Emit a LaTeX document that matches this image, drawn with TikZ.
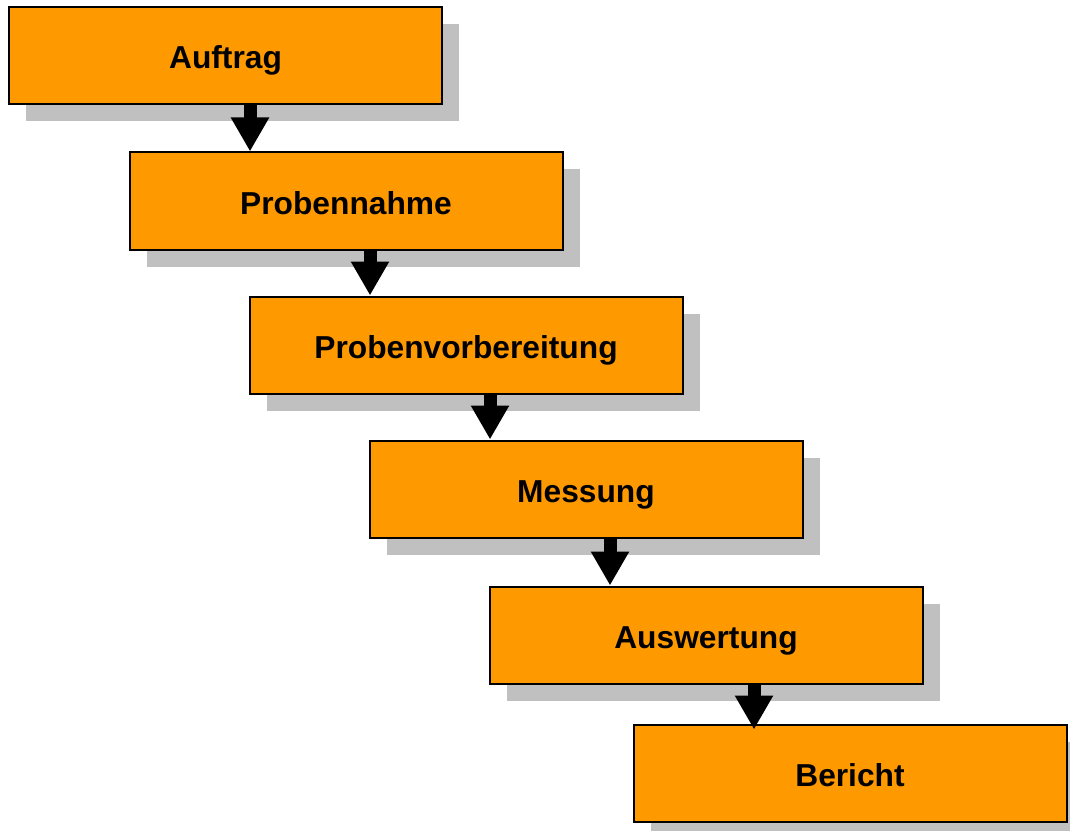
\documentclass[tikz,border=0pt]{standalone}
\usepackage{fontspec}
\setmainfont{Liberation Sans}
\usepackage{xcolor}
\usetikzlibrary{arrows.meta, shadows}
\definecolor{boxorange}{RGB}{255,153,0}
\definecolor{shadowgray}{RGB}{192,192,192}

\begin{document}
\begin{tikzpicture}[
  x=0.75pt, y=-0.75pt,
  font=\fontsize{23.8}{28}\selectfont\bfseries,
  stepbox/.style={draw=black, fill=boxorange, line width=1.5pt,
                  minimum width=324.75pt, minimum height=72.75pt, inner sep=0pt,
                  text height=19.5pt, text depth=0pt,
                  drop shadow={shadow xshift=12.75pt, shadow yshift=-12.75pt,
                               fill=shadowgray, opacity=1}},
  flow/.style={draw=black, line width=9.75pt, line cap=butt,
               -{Triangle[width=27pt 0, length=25.5pt 0]}},
]

\useasboundingbox (0,0) rectangle (1070,831);

%% Process steps (centres in px)
\node[stepbox] (auftrag)      at (225.5,55.5) {Auftrag};
\node[stepbox] (probennahme)  at (346,201)    {Probennahme};
\node[stepbox] (vorbereitung) at (466,345)    {Probenvorbereitung};
\node[stepbox] (messung)      at (586,489)    {Messung};
\node[stepbox] (auswertung)   at (706,635)    {Auswertung};
\node[stepbox] (bericht)      at (850,773)    {Bericht};

%% Block arrows
\foreach \a/\b/\x in {auftrag/probennahme/250, probennahme/vorbereitung/370,
                      vorbereitung/messung/490, messung/auswertung/610}{
  \draw[flow] (\a.south -| \x,0) -- (\b.north -| \x,0);
}
\draw[flow, shorten >=-4.5pt] (auswertung.south -| 754,0) -- (bericht.north -| 754,0);

\end{tikzpicture}
\end{document}
